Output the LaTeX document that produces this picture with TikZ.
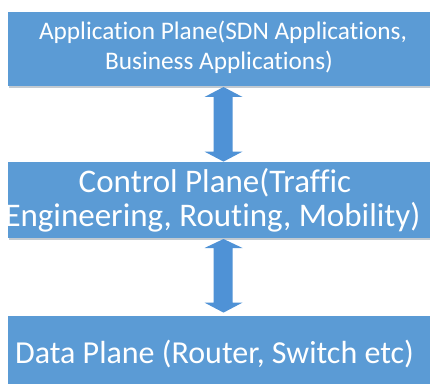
\documentclass[tikz,border=0pt]{standalone}
\usepackage{fontspec}
\setmainfont{Carlito}[Ligatures={NoCommon}]
\usetikzlibrary{calc}
\definecolor{boxblue}{HTML}{5B9BD5}
\definecolor{arrowblue}{HTML}{4F92D6}
\definecolor{shadowgray}{HTML}{9AA7B3}
\begin{document}
\begin{tikzpicture}[x=1pt,y=1pt,
  plane/.style={fill=boxblue, draw=none, inner sep=0pt, anchor=south west},
  planeshadow/.style={fill=shadowgray, opacity=0.6},
  lbl/.style={text=white, inner sep=0pt, anchor=base},
  small/.style={font=\fontsize{25.3}{30}\selectfont},
  big/.style={font=\fontsize{33}{40}\selectfont},
  dblarrow/.style={fill=arrowblue}]
\useasboundingbox (0,0) rectangle (430,383);
\fill[white] (0,0) rectangle (430,383);
% shadows
\fill[planeshadow] (9,295) rectangle (432,298);
\fill[planeshadow] (9,143) rectangle (432,146);
% boxes
\node[plane, minimum width=423pt, minimum height=74pt] (app) at (8,297) {};
\node[plane, minimum width=423pt, minimum height=76pt] (ctrl) at (8,145) {};
\node[plane, minimum width=423pt, minimum height=69pt] (data) at (8,-2) {};
% double arrows
\fill[dblarrow] let \p1=(app.south), \p2=(ctrl.north) in
  (223.5pt,\y1-1pt) -- (242.5pt,\y1-11pt) -- (232.5pt,\y1-11pt) --
  (232.5pt,\y2+10pt) -- (242.5pt,\y2+10pt) -- (223.5pt,\y2) --
  (204.5pt,\y2+10pt) -- (213.5pt,\y2+10pt) -- (213.5pt,\y1-11pt) --
  (204.5pt,\y1-11pt) -- cycle;
\fill[dblarrow] let \p1=(ctrl.south), \p2=(data.north) in
  (223.5pt,\y1-1pt) -- (242.5pt,\y1-10pt) -- (232.5pt,\y1-10pt) --
  (232.5pt,\y2+13pt) -- (242.5pt,\y2+13pt) -- (223.5pt,\y2+3pt) --
  (204.5pt,\y2+13pt) -- (213.5pt,\y2+13pt) -- (213.5pt,\y1-10pt) --
  (204.5pt,\y1-10pt) -- cycle;
% labels
\node[lbl, small] (t1a) at (223,343) {Application Plane(SDN Applications,};
\node[lbl, small] (t1b) at (219,313) {Business Applications)};
\node[lbl, big] (t2a) at (215,190) {Control Plane(Traffic};
\node[lbl, big] (t2b) at (212.5,156.3) {Engineering, Routing, Mobility)};
\node[lbl, font=\fontsize{32}{38}\selectfont] (t3) at (214.5,19.7) {Data Plane (Router, Switch etc)};
\end{tikzpicture}
\end{document}
